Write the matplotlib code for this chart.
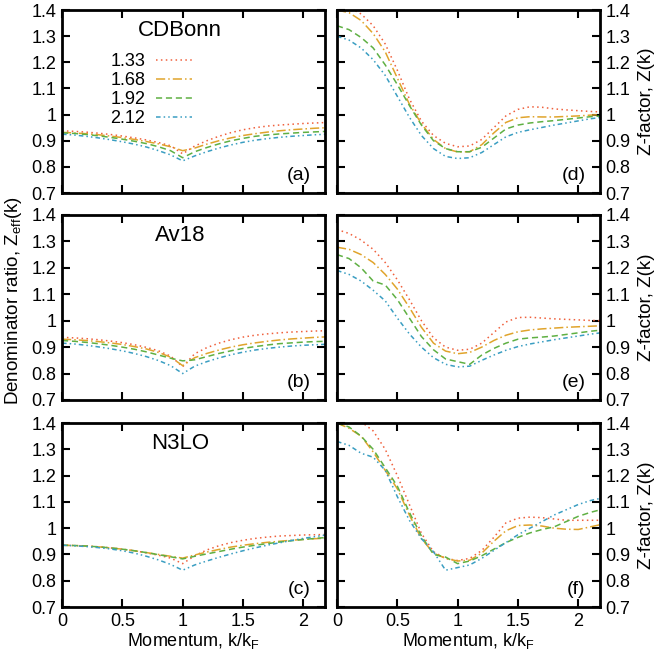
import matplotlib
matplotlib.use("Agg")
from matplotlib import pyplot as plt

plt.rcParams['font.family'] = ['Liberation Sans', 'DejaVu Sans']
plt.rcParams['mathtext.fontset'] = 'custom'
plt.rcParams['mathtext.rm'] = 'Liberation Sans'
plt.rcParams['mathtext.it'] = 'Liberation Sans'

k = [0.0, 0.1, 0.2, 0.3, 0.4, 0.5, 0.6, 0.7, 0.8, 0.9, 1.0, 1.1,
     1.2, 1.3, 1.4, 1.5, 1.6, 1.7, 1.8, 1.9, 2.0, 2.1, 2.2]
cutoffs = ["1.33", "1.68", "1.92", "2.12"]
models = ["CDBonn", "Av18", "N3LO"]

# denominator ratio Z_eff(k), left column
zeff_cdbonn = [
    [0.938, 0.936, 0.933, 0.929, 0.924, 0.918, 0.911, 0.903, 0.893, 0.881, 0.850,
     0.880, 0.900, 0.917, 0.931, 0.942, 0.950, 0.956, 0.960, 0.963, 0.966, 0.968, 0.970],
    [0.932, 0.930, 0.927, 0.923, 0.918, 0.912, 0.905, 0.897, 0.888, 0.877, 0.862,
     0.872, 0.887, 0.900, 0.911, 0.920, 0.927, 0.933, 0.938, 0.942, 0.945, 0.948, 0.950],
    [0.930, 0.928, 0.924, 0.919, 0.913, 0.906, 0.898, 0.889, 0.877, 0.862, 0.835,
     0.858, 0.874, 0.888, 0.900, 0.909, 0.917, 0.922, 0.926, 0.929, 0.932, 0.934, 0.936],
    [0.925, 0.922, 0.917, 0.911, 0.904, 0.896, 0.887, 0.876, 0.862, 0.846, 0.823,
     0.842, 0.858, 0.872, 0.884, 0.894, 0.902, 0.908, 0.913, 0.917, 0.920, 0.923, 0.925],
]
zeff_av18 = [
    [0.937, 0.935, 0.932, 0.928, 0.923, 0.917, 0.909, 0.899, 0.886, 0.866, 0.826,
     0.875, 0.898, 0.915, 0.928, 0.938, 0.945, 0.950, 0.954, 0.957, 0.959, 0.961, 0.962],
    [0.930, 0.928, 0.925, 0.921, 0.916, 0.910, 0.902, 0.893, 0.880, 0.862, 0.830,
     0.860, 0.876, 0.889, 0.900, 0.909, 0.916, 0.922, 0.927, 0.931, 0.934, 0.937, 0.939],
    [0.925, 0.922, 0.918, 0.913, 0.907, 0.900, 0.892, 0.882, 0.870, 0.858, 0.848,
     0.852, 0.864, 0.876, 0.886, 0.895, 0.902, 0.908, 0.913, 0.916, 0.919, 0.921, 0.922],
    [0.915, 0.912, 0.907, 0.901, 0.894, 0.886, 0.876, 0.864, 0.849, 0.830, 0.800,
     0.828, 0.845, 0.859, 0.871, 0.881, 0.889, 0.895, 0.900, 0.904, 0.907, 0.909, 0.911],
]
zeff_n3lo = [
    [0.935, 0.934, 0.932, 0.929, 0.925, 0.920, 0.914, 0.906, 0.897, 0.886, 0.865,
     0.895, 0.917, 0.933, 0.945, 0.954, 0.961, 0.966, 0.970, 0.972, 0.974, 0.975, 0.976],
    [0.935, 0.934, 0.932, 0.929, 0.925, 0.920, 0.914, 0.907, 0.900, 0.893, 0.886,
     0.898, 0.909, 0.919, 0.928, 0.935, 0.941, 0.946, 0.950, 0.954, 0.957, 0.960, 0.962],
    [0.935, 0.934, 0.932, 0.929, 0.925, 0.920, 0.914, 0.907, 0.899, 0.891, 0.883,
     0.893, 0.902, 0.911, 0.920, 0.928, 0.935, 0.941, 0.947, 0.952, 0.957, 0.961, 0.965],
    [0.935, 0.933, 0.930, 0.926, 0.921, 0.914, 0.905, 0.893, 0.879, 0.862, 0.840,
     0.860, 0.875, 0.889, 0.902, 0.914, 0.925, 0.935, 0.944, 0.953, 0.961, 0.968, 0.975],
]

# Z-factor Z(k), right column
z_cdbonn = [
    [1.42, 1.41, 1.385, 1.34, 1.27, 1.17, 1.06, 0.975, 0.92, 0.89, 0.877, 0.88,
     0.905, 0.95, 0.995, 1.02, 1.03, 1.028, 1.022, 1.018, 1.015, 1.012, 1.01],
    [1.40, 1.39, 1.36, 1.31, 1.24, 1.14, 1.04, 0.965, 0.905, 0.87, 0.857, 0.858,
     0.885, 0.93, 0.97, 0.988, 0.992, 0.991, 0.991, 0.993, 0.995, 0.998, 1.0],
    [1.34, 1.325, 1.295, 1.255, 1.19, 1.115, 1.035, 0.96, 0.90, 0.87, 0.858, 0.858,
     0.875, 0.91, 0.945, 0.96, 0.968, 0.973, 0.977, 0.982, 0.987, 0.992, 0.995],
    [1.30, 1.285, 1.255, 1.21, 1.15, 1.07, 0.99, 0.92, 0.87, 0.84, 0.832, 0.835,
     0.855, 0.885, 0.915, 0.932, 0.942, 0.951, 0.96, 0.968, 0.976, 0.984, 0.99],
]
z_av18 = [
    [1.345, 1.33, 1.305, 1.27, 1.22, 1.155, 1.08, 1.0, 0.935, 0.90, 0.888, 0.892,
     0.915, 0.955, 0.995, 1.012, 1.013, 1.01, 1.007, 1.005, 1.003, 1.001, 1.0],
    [1.278, 1.27, 1.25, 1.22, 1.175, 1.12, 1.05, 0.975, 0.915, 0.885, 0.875, 0.88,
     0.90, 0.925, 0.945, 0.958, 0.965, 0.969, 0.972, 0.975, 0.977, 0.979, 0.981],
    [1.25, 1.235, 1.20, 1.15, 1.135, 1.08, 1.01, 0.94, 0.89, 0.855, 0.845, 0.835,
     0.87, 0.895, 0.915, 0.93, 0.935, 0.938, 0.942, 0.948, 0.954, 0.96, 0.965],
    [1.19, 1.175, 1.15, 1.115, 1.075, 1.01, 0.95, 0.90, 0.86, 0.835, 0.825, 0.828,
     0.85, 0.87, 0.888, 0.902, 0.912, 0.92, 0.928, 0.935, 0.942, 0.949, 0.955],
]
z_n3lo = [
    [1.43, 1.42, 1.405, 1.37, 1.30, 1.20, 1.09, 0.98, 0.91, 0.885, 0.877, 0.885,
     0.915, 0.965, 1.02, 1.038, 1.042, 1.04, 1.035, 1.03, 1.03, 1.03, 1.03],
    [1.40, 1.38, 1.35, 1.29, 1.22, 1.15, 1.05, 0.96, 0.905, 0.885, 0.875, 0.878,
     0.905, 0.95, 0.99, 1.01, 1.012, 1.008, 1.0, 0.996, 0.995, 1.005, 1.015],
    [1.40, 1.385, 1.35, 1.30, 1.23, 1.16, 1.06, 0.97, 0.90, 0.89, 0.865, 0.875,
     0.895, 0.92, 0.945, 0.965, 0.982, 0.995, 1.005, 1.025, 1.045, 1.06, 1.072],
    [1.33, 1.315, 1.285, 1.27, 1.22, 1.12, 1.03, 0.96, 0.91, 0.84, 0.85, 0.86,
     0.885, 0.915, 0.945, 0.975, 1.0, 1.025, 1.05, 1.07, 1.09, 1.105, 1.115],
]

left_data = [zeff_cdbonn, zeff_av18, zeff_n3lo]
right_data = [z_cdbonn, z_av18, z_n3lo]

colors = ['#f0603c', '#e0a42c', '#5fb043', '#3a9ec2']
styles = [(0, (1, 2.2)), (0, (6, 2, 1, 2)), (0, (4, 2.5)), (0, (3, 2, 1, 2, 1, 2))]

fig = plt.figure(figsize=(6.55, 6.57), dpi=100)
rows = [(0.7062, 0.2785), (0.3912, 0.2816), (0.0761, 0.2800)]
xl, xr, w = 0.0947, 0.5145, 0.4015
letters = ['a', 'b', 'c', 'd', 'e', 'f']

for r in range(3):
    bot, h = rows[r]
    for c in range(2):
        ax = fig.add_axes([xl if c == 0 else xr, bot, w, h])
        data = left_data[r] if c == 0 else right_data[r]
        for i in range(4):
            ax.plot(k, data[i], color=colors[i], linestyle=styles[i], lw=1.1,
                    label=cutoffs[i])
        ax.set_xlim(0, 2.18)
        ax.set_ylim(0.7, 1.4)
        ax.set_xticks([0, 0.5, 1, 1.5, 2])
        ax.set_xticklabels(['0', '0.5', '1', '1.5', '2'])
        ax.set_yticks([0.7, 0.8, 0.9, 1.0, 1.1, 1.2, 1.3, 1.4])
        ax.set_yticklabels(['0.7', '0.8', '0.9', '1', '1.1', '1.2', '1.3', '1.4'])
        ax.tick_params(direction='in', top=True, right=True, length=6, width=1.5,
                       labelsize=13, pad=4)
        if c == 1:
            ax.tick_params(labelleft=False, labelright=True)
            fig.text(0.987, bot + h / 2, 'Z-factor, Z(k)', fontsize=13.5,
                     rotation=90, ha='center', va='center')
        if r < 2:
            ax.tick_params(labelbottom=False)
        else:
            ax.set_xlabel('Momentum, k/k$_\\mathregular{F}$', fontsize=13, labelpad=1)
        for s in ax.spines.values():
            s.set_linewidth(2.0)
        ax.text(0.945, 0.05, '(%s)' % letters[r + 3 * c], transform=ax.transAxes,
                ha='right', va='bottom', fontsize=14)
        if c == 0:
            ax.text(0.45, 0.89, models[r], transform=ax.transAxes, ha='center',
                    va='center', fontsize=16)
        if r == 0 and c == 0:
            ax.legend(loc='upper right', bbox_to_anchor=(0.53, 0.815), frameon=False,
                      markerfirst=False, fontsize=13, handlelength=2.0,
                      handletextpad=0.6, labelspacing=0.12, borderpad=0)

fig.text(0.02, 0.543, 'Denominator ratio, Z$_\\mathregular{eff}$(k)', rotation=90,
         ha='center', va='center', fontsize=13.5)

plt.savefig('out.png', dpi=100)
